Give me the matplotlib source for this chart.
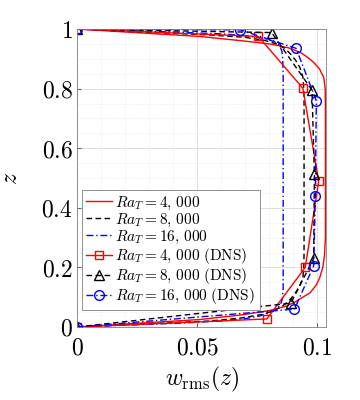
import matplotlib
matplotlib.use("Agg")
import matplotlib.pyplot as plt
from matplotlib.ticker import MultipleLocator

plt.rcParams['mathtext.fontset'] = 'cm'
plt.rcParams['font.family'] = 'serif'
plt.rcParams['font.serif'] = ['DejaVu Serif']

# model profiles
z_4k = [0, 0.01, 0.025, 0.04, 0.055, 0.07, 0.085, 0.1, 0.115, 0.14, 0.165, 0.2, 0.24, 0.3,
        0.75, 0.8, 0.837, 0.865, 0.888, 0.905, 0.921, 0.937, 0.95, 0.961, 0.975, 0.99, 1]
w_4k = [0, 0.02, 0.051, 0.068, 0.08, 0.087, 0.091, 0.094, 0.097, 0.0995, 0.101, 0.1023, 0.103, 0.1034,
        0.1034, 0.1033, 0.1027, 0.101, 0.0985, 0.096, 0.093, 0.088, 0.08, 0.068, 0.051, 0.02, 0]

z_8k = [0, 0.01, 0.02, 0.03, 0.042, 0.055, 0.07, 0.09, 0.11, 0.135, 0.165, 0.2, 0.25,
        0.75, 0.8, 0.84, 0.87, 0.895, 0.915, 0.935, 0.95, 0.962, 0.972, 0.98, 0.99, 1]
w_8k = [0, 0.028, 0.055, 0.068, 0.077, 0.082, 0.0855, 0.0885, 0.0905, 0.0925, 0.094, 0.0944, 0.0945,
        0.0945, 0.0944, 0.094, 0.0928, 0.091, 0.089, 0.0865, 0.083, 0.078, 0.07, 0.055, 0.028, 0]

z_16k = [0, 0.006, 0.012, 0.02, 0.028, 0.037, 0.048, 0.06, 0.075, 0.095, 0.13,
         0.85, 0.9, 0.925, 0.945, 0.958, 0.968, 0.976, 0.983, 0.99, 0.995, 1]
w_16k = [0, 0.02, 0.04, 0.06, 0.07, 0.076, 0.0805, 0.083, 0.0847, 0.0855, 0.0858,
         0.0858, 0.0856, 0.0853, 0.0843, 0.082, 0.078, 0.072, 0.062, 0.04, 0.02, 0]

# DNS points
z_dns_4k = [0, 0.027, 0.2, 0.489, 0.801, 0.975, 1]
w_dns_4k = [0, 0.079, 0.095, 0.1006, 0.094, 0.0755, 0]
z_dns_8k = [0, 0.08, 0.23, 0.512, 0.795, 0.988, 1]
w_dns_8k = [0, 0.089, 0.0985, 0.0988, 0.0978, 0.081, 0]
z_dns_16k = [0, 0.06, 0.205, 0.439, 0.759, 0.935, 0.997, 1]
w_dns_16k = [0, 0.0905, 0.0985, 0.0992, 0.0996, 0.0912, 0.068, 0]

labels = [r'$Ra_T = 4,\,000$', r'$Ra_T = 8,\,000$', r'$Ra_T = 16,\,000$',
          r'$Ra_T = 4,\,000\ \mathrm{(DNS)}$', r'$Ra_T = 8,\,000\ \mathrm{(DNS)}$',
          r'$Ra_T = 16,\,000\ \mathrm{(DNS)}$']
xticks = [0, 0.05, 0.1]
xticklabels = [r'$0$', r'$0.05$', r'$0.1$']
yticks = [0, 0.2, 0.4, 0.6, 0.8, 1]
yticklabels = [r'$0$', r'$0.2$', r'$0.4$', r'$0.6$', r'$0.8$', r'$1$']

fig = plt.figure(figsize=(3.6, 4.0), dpi=100)
ax = fig.add_axes([0.214, 0.1825, 0.692, 0.745])

lw = 1.0
dashdot = (0, (5, 2, 1, 2))
dashed = (0, (4, 2.5))
ax.plot(w_4k, z_4k, '-', color='r', lw=lw, label=labels[0])
ax.plot(w_8k, z_8k, ls=dashed, color='k', lw=lw, label=labels[1])
ax.plot(w_16k, z_16k, ls=dashdot, color='b', lw=lw, label=labels[2])
ax.plot(w_dns_4k, z_dns_4k, '-', color='r', lw=lw, marker='s', ms=6, mfc='none', mew=1.0,
        label=labels[3])
ax.plot(w_dns_8k, z_dns_8k, ls=dashed, color='k', lw=lw, marker='^', ms=7, mfc='none', mew=1.0,
        label=labels[4])
ax.plot(w_dns_16k, z_dns_16k, ls=dashdot, color='b', lw=lw, marker='o', ms=7, mfc='none', mew=1.0,
        label=labels[5])

ax.set_xlim(0, 0.1037)
ax.set_ylim(0, 1)
ax.set_xticks(xticks)
ax.set_xticklabels(xticklabels)
ax.set_yticks(yticks)
ax.set_yticklabels(yticklabels)
ax.xaxis.set_minor_locator(MultipleLocator(0.01))
ax.yaxis.set_minor_locator(MultipleLocator(0.05))
ax.tick_params(which='both', direction='in', labelsize=17, color='0.4', length=3)
ax.tick_params(axis='x', pad=7)
ax.tick_params(axis='y', pad=3)
ax.tick_params(which='minor', length=0)
ax.grid(which='major', color='0.85', lw=0.6)
ax.grid(which='minor', color='0.88', lw=0.5, ls=':')
ax.set_axisbelow(True)
for s in ax.spines.values():
    s.set_color('0.5')
    s.set_linewidth(0.6)

ax.set_xlabel(r'$w_{\mathrm{rms}}(z)$', fontsize=17, labelpad=4)
ax.set_ylabel(r'$z$', fontsize=17, labelpad=14)

leg = ax.legend(loc='lower left', bbox_to_anchor=(0.0, 0.04), fontsize=11, handlelength=1.7,
                handletextpad=0.2, labelspacing=0.0, borderpad=0.3, borderaxespad=0.3,
                fancybox=False, framealpha=1)
leg.get_frame().set_edgecolor('0.5')
leg.get_frame().set_linewidth(0.6)

fig.savefig('out.png', dpi=100)
